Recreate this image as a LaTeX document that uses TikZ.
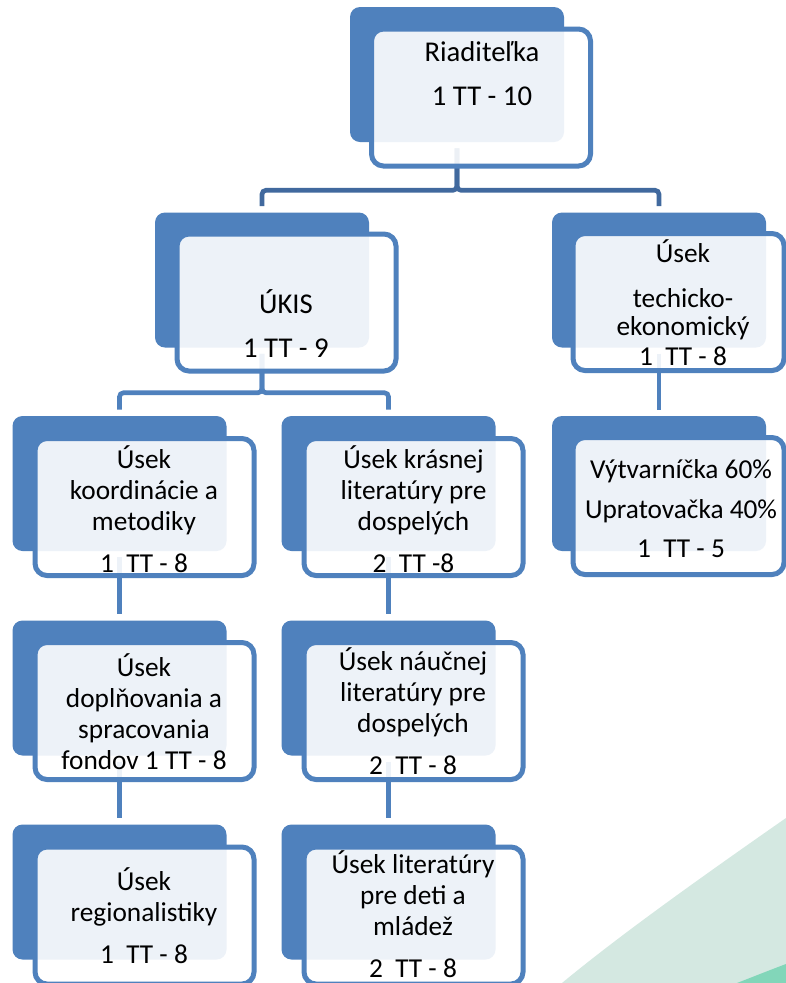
\documentclass[tikz,border=0pt]{standalone}
\usepackage{fontspec}
\setmainfont{Carlito}
\definecolor{boxblue}{HTML}{4F81BD}
\definecolor{barblue}{HTML}{41699E}
\definecolor{paleteal}{HTML}{D4E8E1}
\definecolor{deepteal}{HTML}{82D6B9}

\begin{document}
\begin{tikzpicture}[x=0.75pt, y=-0.75pt,
    back/.style={fill=boxblue, rounded corners=7.5pt, minimum width=160.5pt,
      minimum height=101.25pt, inner sep=0pt},
    front/.style={draw=boxblue, line width=3.75pt, fill=white, fill opacity=0.9,
      rounded corners=9pt, minimum width=164.25pt, minimum height=102.75pt, inner sep=0pt},
    narrow/.style={front, minimum width=158.25pt},
    boxtext/.style={align=center, inner sep=0pt, font=\fontsize{20.5}{23.25}\selectfont},
    bigtext/.style={boxtext, font=\fontsize{21.5}{23.25}\selectfont},
    link/.style={line width=3.5pt, boxblue, rounded corners=3pt,
      shorten <=4.5pt, shorten >=4.5pt},
    toplink/.style={link, barblue}]
    \useasboundingbox (0,0) rectangle (786,983);
    \clip (0,0) rectangle (786,983);
    \fill[white] (0,0) rectangle (786,983);
    % corner decoration
    \fill[paleteal] (562,983) .. controls (620,935) and (700,878) .. (786,818)
      -- (786,983) -- cycle;
    \fill[deepteal] (737,983) .. controls (755,976) and (770,970) .. (786,964)
      -- (786,983) -- cycle;

    \node[back] (riad) at (457,74.5) {};
    \node[back] (ukis) at (262,280) {};
    \node[back] (tech) at (659,280) {};
    \node[back] (koord) at (119.5,483.5) {};
    \node[back] (kras) at (388.5,483.5) {};
    \node[back] (vytv) at (659,483.5) {};
    \node[back] (dopl) at (119.5,688) {};
    \node[back] (nauc) at (388.5,688) {};
    \node[back] (regi) at (119.5,892) {};
    \node[back] (lit) at (388.5,892) {};

    \draw[toplink] (riad.south) -- ++(0,48) -| (ukis.north);
    \draw[toplink] (riad.south) -- ++(0,48) -| (tech.north);
    \draw[link] (ukis.south) -- ++(0,45) -| (koord.north);
    \draw[link] (ukis.south) -- ++(0,45) -| (kras.north);
    \draw[link] (tech.south) -- (vytv.north);
    \draw[link] (koord.south) -- (dopl.north);
    \draw[link] (dopl.south) -- (regi.north);
    \draw[link] (kras.south) -- (nauc.north);
    \draw[link] (nauc.south) -- (lit.north);

    \node[front] (riadf) at (481,97.5) {};
    \node[front] (ukisf) at (286.5,302.5) {};
    \node[narrow] (techf) at (678.5,302) {};
    \node[front] (koordf) at (144.5,507) {};
    \node[front] (krasf) at (413.5,507) {};
    \node[narrow] (vytvf) at (678.5,506) {};
    \node[front] (doplf) at (144.5,711) {};
    \node[front] (naucf) at (413.5,711) {};
    \node[front] (regif) at (144.5,915.5) {};
    \node[front] (litf) at (413.5,915.5) {};

    \node[bigtext] (riadt) at (482,74) {Riaditeľka\\[9.75pt]1 TT - 10};
    \node[bigtext] (ukist) at (286,324) {ÚKIS\\[9.75pt]1 TT - 9};
    \node[boxtext] (techt) at (683,302.5)
      {Úsek\\[10.5pt]techicko-\\[-2.25pt]ekonomický\\[-0.75pt]1~~TT - 8};
    \node[boxtext] (koordt) at (144,509.5)
      {Úsek\\koordinácie a\\metodiky\\[8.25pt]1~~TT - 8};
    \node[boxtext] (krast) at (413.5,509.5)
      {Úsek krásnej\\literatúry pre\\dospelých\\[8.25pt]2~~TT -8};
    \node[boxtext] (vytvt) at (681,508.5)
      {Výtvarníčka 60\%\\[6.75pt]Upratovačka 40\%\\[6pt]1~~TT - 5};
    \node[boxtext] (doplt) at (144,712)
      {Úsek\\doplňovania a\\spracovania\\fondov 1 TT - 8};
    \node[boxtext] (nauct) at (413,711.5)
      {Úsek náučnej\\literatúry pre\\dospelých\\[8.25pt]2~~TT - 8};
    \node[boxtext] (regit) at (144,916)
      {Úsek\\regionalistiky\\[8.25pt]1~~TT - 8};
    \node[boxtext] (litt) at (413,914)
      {Úsek literatúry\\pre deti a\\mládež\\[8.25pt]2~~TT - 8};
\end{tikzpicture}
\end{document}
